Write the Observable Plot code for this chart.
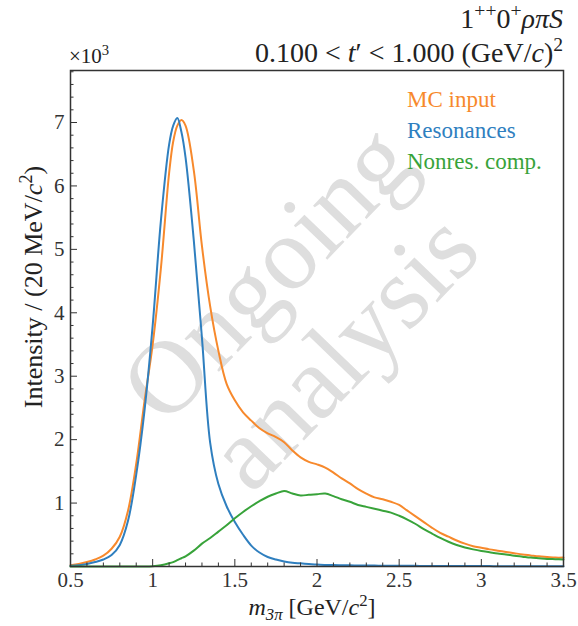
<!DOCTYPE html>
<html><head><meta charset="utf-8">
<script src="https://cdn.jsdelivr.net/npm/d3@7"></script>
<script src="https://cdn.jsdelivr.net/npm/@observablehq/plot@0.6"></script>
<style>body{margin:0;background:#fff} svg{display:block}</style>
</head><body><div id="chart"></div>
<script>
// ---- data ----
const mass = [0.50,0.55,0.60,0.65,0.70,0.75,0.80,0.85,0.90,0.95,1.00,1.05,1.10,1.125,1.15,1.175,
  1.20,1.25,1.30,1.35,1.40,1.45,1.50,1.55,1.60,1.65,1.70,1.75,1.80,1.85,1.90,1.95,2.00,2.05,2.10,2.15,
  2.20,2.25,2.30,2.35,2.40,2.45,2.50,2.55,2.60,2.65,2.70,2.75,2.80,2.85,2.90,2.95,3.00,3.05,3.10,3.15,
  3.20,3.25,3.30,3.35,3.40,3.45,3.50];
const mcInput = [0.02,0.04,0.07,0.11,0.17,0.28,0.47,0.88,1.62,2.6,3.5,4.7,6.2,6.7,6.95,7.04,
  6.95,6.25,5.05,4.1,3.4,2.88,2.62,2.43,2.3,2.18,2.1,2.04,1.96,1.83,1.72,1.65,1.61,1.56,1.48,1.39,
  1.31,1.22,1.15,1.09,1.06,1.02,0.97,0.88,0.79,0.70,0.61,0.53,0.47,0.41,0.36,0.32,0.295,0.27,0.25,0.23,
  0.21,0.19,0.175,0.16,0.15,0.14,0.14];
const resonances = [0.01,0.02,0.04,0.07,0.11,0.18,0.34,0.72,1.45,2.45,3.8,5.45,6.65,6.95,7.07,6.85,
  6.45,5.15,3.6,1.95,1.3,0.95,0.70,0.50,0.33,0.22,0.15,0.11,0.08,0.06,0.05,0.04,0.03,0.025,0.022,0.02,
  0.018,0.016,0.015,0.014,0.013,0.012,0.011,0.01,0.01,0.009,0.009,0.008,0.008,0.007,0.007,0.006,0.006,0.006,0.005,0.005,
  0.005,0.004,0.004,0.004,0.004,0.003,0.003];
const nonresonant = [0,0,0,0,0,0,0,0,0,0,0.005,0.02,0.05,0.07,0.10,0.13,
  0.16,0.25,0.36,0.45,0.55,0.65,0.76,0.86,0.95,1.03,1.10,1.15,1.19,1.15,1.12,1.13,1.14,1.15,1.11,1.06,
  1.02,0.97,0.94,0.91,0.88,0.85,0.80,0.74,0.67,0.59,0.52,0.45,0.39,0.34,0.30,0.27,0.245,0.225,0.205,0.19,
  0.17,0.155,0.14,0.13,0.12,0.115,0.11];
const seriesNames = ["MC input", "Resonances", "Nonres. comp."];
const seriesColors = ["#f7892c", "#2f7fbf", "#38a33a"];
const xMajorTicks = [0.5, 1, 1.5, 2, 2.5, 3, 3.5];
const yMajorTicks = [1, 2, 3, 4, 5, 6, 7];

const rows = [];
[mcInput, resonances, nonresonant].forEach((vals, k) =>
  vals.forEach((v, i) => rows.push({m: mass[i], v, s: seriesNames[k]})));

const xMinor = d3.range(5, 36).map(d => d / 10).filter(d => !xMajorTicks.includes(d));
const yMinor = d3.range(1, 40).map(d => d / 5).filter(d => d <= 7.8 && !Number.isInteger(d));

const FONT = "'Liberation Serif', 'DejaVu Serif', serif";
const ink = "#333";

const chart = Plot.plot({
  width: 578, height: 626,
  marginTop: 70, marginRight: 15, marginBottom: 60, marginLeft: 70,
  style: {fontFamily: FONT, fontSize: "21px", color: ink, background: "#fff"},
  x: {domain: [0.5, 3.5]},
  y: {domain: [0, 7.82]},
  color: {domain: seriesNames, range: seriesColors},
  marks: [
    Plot.lineY(rows, {x: "m", y: "v", stroke: "s", strokeWidth: 2, curve: "catmull-rom"}),
    Plot.axisX({ticks: xMajorTicks, tickSize: -7, tickPadding: 13, label: null, tickFormat: d => String(d), stroke: ink}),
    Plot.axisX({ticks: xMinor, tickSize: -3.5, fill: "none", label: null, stroke: ink}),
    Plot.axisY({ticks: yMajorTicks, tickSize: -7, tickPadding: 13, label: null, tickFormat: d => String(d), stroke: ink}),
    Plot.axisY({ticks: yMinor, tickSize: -3.5, fill: "none", label: null, stroke: ink}),
    Plot.frame({stroke: ink, strokeWidth: 1.5})
  ]
});
document.getElementById("chart").appendChild(chart);

const svg = d3.select(chart);

function rich(sel, parts, size) {
  let shift = 0;
  parts.forEach(p => {
    const t = sel.append("tspan").text(p.t);
    let target = 0, fs = size;
    if (p.sup) { target = -size * 0.38; fs = size * 0.7; }
    if (p.sub) { target = size * 0.22; fs = size * 0.7; }
    t.attr("font-size", fs).attr("dy", target - shift);
    if (p.it) t.attr("font-style", "italic");
    shift = target;
  });
}

// watermark (under everything)
const wm = svg.insert("g", "g").attr("fill", "#dedede").attr("font-family", FONT).attr("font-size", 104)
  .attr("text-anchor", "middle");
wm.append("text").attr("transform", "translate(266,272) rotate(-46)")
  .attr("dominant-baseline", "central").text("Ongoing");
wm.append("text").attr("transform", "translate(342,350) rotate(-46)")
  .attr("dominant-baseline", "central").text("analysis");

const deco = svg.append("g").attr("font-family", FONT).attr("fill", "#222");

// titles
rich(deco.append("text").attr("x", 563).attr("y", 28).attr("text-anchor", "end"),
  [{t: "1"}, {t: "++", sup: true}, {t: "0"}, {t: "+", sup: true}, {t: "ρπS", it: true}], 28);
rich(deco.append("text").attr("x", 563).attr("y", 62).attr("text-anchor", "end"),
  [{t: "0.100 < "}, {t: "t", it: true}, {t: "′ < 1.000 (GeV/"}, {t: "c", it: true}, {t: ")"}, {t: "2", sup: true}], 28);

// multiplier
rich(deco.append("text").attr("x", 69).attr("y", 63).attr("text-anchor", "start"),
  [{t: "×10"}, {t: "3", sup: true}], 21);

// axis labels
rich(deco.append("text").attr("transform", "translate(42,287) rotate(-90)").attr("text-anchor", "middle"),
  [{t: "Intensity / (20 MeV/"}, {t: "c", it: true}, {t: "2", sup: true}, {t: ")"}], 26);
rich(deco.append("text").attr("x", 312).attr("y", 615).attr("text-anchor", "middle"),
  [{t: "m", it: true}, {t: "3π", sub: true, it: true}, {t: " [GeV/"}, {t: "c", it: true}, {t: "2", sup: true}, {t: "]"}], 24);

// legend
seriesNames.forEach((name, i) => {
  deco.append("text").attr("x", 407).attr("y", 107 + i * 31).attr("text-anchor", "start")
    .attr("font-size", 23).attr("fill", seriesColors[i]).text(name);
});
</script>
</body></html>
